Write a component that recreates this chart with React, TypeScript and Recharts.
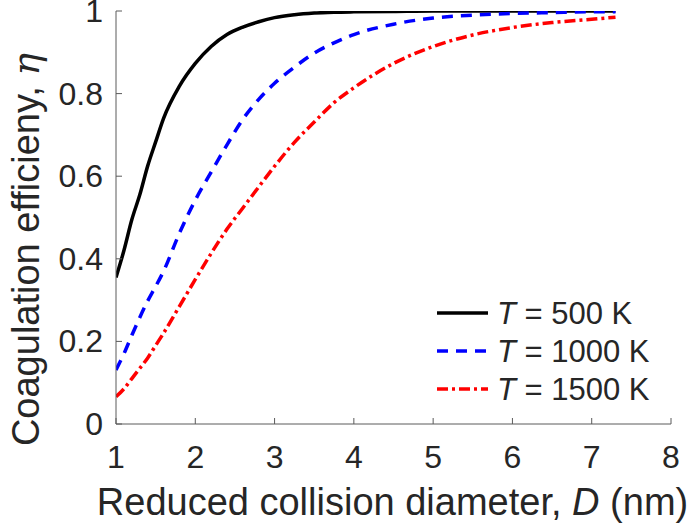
import { LineChart, Line, XAxis, YAxis, Legend } from "recharts";

// reduced collision diameter D (nm)
const diameters = [1, 1.1, 1.2, 1.3, 1.4, 1.5, 1.6, 1.8, 2, 2.2, 2.4, 2.6, 2.8, 3, 3.25, 3.5, 3.75, 4, 4.5, 5, 5.5, 6, 6.5, 7, 7.3];
// coagulation efficiency per temperature
const eta500 = [0.355, 0.42, 0.495, 0.555, 0.625, 0.683, 0.74, 0.818, 0.873, 0.914, 0.943, 0.961, 0.974, 0.984, 0.991, 0.995, 0.997, 0.998, 0.999, 1, 1, 1, 1, 1, 1];
const eta1000 = [0.131, 0.17, 0.215, 0.258, 0.298, 0.333, 0.37, 0.462, 0.542, 0.61, 0.676, 0.738, 0.786, 0.825, 0.864, 0.898, 0.923, 0.943, 0.968, 0.983, 0.99, 0.994, 0.996, 0.998, 0.998];
const eta1500 = [0.066, 0.085, 0.11, 0.135, 0.16, 0.19, 0.22, 0.285, 0.35, 0.413, 0.472, 0.523, 0.574, 0.624, 0.682, 0.731, 0.778, 0.814, 0.873, 0.914, 0.942, 0.96, 0.972, 0.98, 0.985];

const xTicks = [1, 2, 3, 4, 5, 6, 7, 8];
const yTicks = [0, 0.2, 0.4, 0.6, 0.8, 1];

const data = diameters.map((d, i) => ({
  d,
  t500: eta500[i],
  t1000: eta1000[i],
  t1500: eta1500[i],
}));

const FONT = '"Liberation Sans", Arial, Helvetica, sans-serif';
const TEXT = "#262626";
const AXIS = "#5a5a5a";
const TICK_LEN = 6;

const series = [
  { key: "t500", name: "T = 500 K", color: "#000000", dash: undefined as string | undefined },
  { key: "t1000", name: "T = 1000 K", color: "#0000ff", dash: "11 8" },
  { key: "t1500", name: "T = 1500 K", color: "#ff0000", dash: "11 4 3 4" },
];

function BottomTick({ x, y, payload }: any) {
  return (
    <g>
      <line x1={x} y1={y} x2={x} y2={y - TICK_LEN} stroke={AXIS} strokeWidth={1} />
      <text x={x} y={y + 44} textAnchor="middle" fontSize={32} fontFamily={FONT} fill={TEXT}>
        {payload.value}
      </text>
    </g>
  );
}

function LeftTick({ x, y, payload }: any) {
  return (
    <g>
      <line x1={x} y1={y} x2={x + TICK_LEN} y2={y} stroke={AXIS} strokeWidth={1} />
      <text x={x - 13} y={y + 11} textAnchor="end" fontSize={32} fontFamily={FONT} fill={TEXT}>
        {payload.value}
      </text>
    </g>
  );
}

function TopTick({ x, y }: any) {
  return <line x1={x} y1={y} x2={x} y2={y + TICK_LEN} stroke={AXIS} strokeWidth={1} />;
}

function RightTick({ x, y }: any) {
  return <line x1={x} y1={y} x2={x - TICK_LEN} y2={y} stroke={AXIS} strokeWidth={1} />;
}

function XTitle({ viewBox }: any) {
  const { x, y, width } = viewBox;
  return (
    <text x={x + width / 2 - 1} y={y + 91} textAnchor="middle" fontSize={38} fontFamily={FONT} fill={TEXT}>
      Reduced collision diameter, <tspan fontStyle="italic">D</tspan> (nm)
    </text>
  );
}

function YTitle({ viewBox }: any) {
  const { x, y, height } = viewBox;
  const cx = x + 39;
  const cy = y + height / 2 + 32;
  return (
    <text
      x={cx}
      y={cy}
      transform={`rotate(-90 ${cx} ${cy})`}
      textAnchor="middle"
      fontSize={38}
      fontFamily={FONT}
      fill={TEXT}
    >
      Coagulation efficieny,{" "}
      <tspan fontStyle="italic" fontFamily='"DejaVu Serif", serif'>
        η
      </tspan>
    </text>
  );
}

function LegendBox() {
  return (
    <svg width={260} height={120}>
      {series.map((s, i) => {
        const cy = 23 + i * 38;
        return (
          <g key={s.key}>
            <line x1={7} y1={cy} x2={58} y2={cy} stroke={s.color} strokeWidth={3.5} strokeDasharray={s.dash} />
            <text x={67} y={cy + 11} fontSize={31} fontFamily={FONT} fill={TEXT}>
              <tspan fontStyle="italic">{s.name.charAt(0)}</tspan>
              {s.name.slice(1)}
            </text>
          </g>
        );
      })}
    </svg>
  );
}

export default function App() {
  return (
    <div style={{ position: "absolute", left: 0, top: 0, background: "#fff" }}>
      <LineChart width={695} height={528} data={data} margin={{ top: 11, right: 24, bottom: 0, left: 0 }}>
        <XAxis
          dataKey="d"
          type="number"
          domain={[1, 8]}
          ticks={xTicks}
          interval={0}
          height={104}
          tickSize={0}
          tickMargin={0}
          tickLine={false}
          axisLine={{ stroke: AXIS, strokeWidth: 1 }}
          tick={<BottomTick />}
          label={<XTitle />}
          allowDataOverflow
        />
        <XAxis
          xAxisId="top"
          orientation="top"
          dataKey="d"
          type="number"
          domain={[1, 8]}
          ticks={xTicks}
          interval={0}
          height={0}
          tickSize={0}
          tickMargin={0}
          tickLine={false}
          axisLine={{ stroke: AXIS, strokeWidth: 1 }}
          tick={<TopTick />}
          allowDataOverflow
        />
        <YAxis
          type="number"
          domain={[0, 1]}
          ticks={yTicks}
          interval={0}
          width={116}
          tickSize={0}
          tickMargin={0}
          tickLine={false}
          axisLine={{ stroke: AXIS, strokeWidth: 1 }}
          tick={<LeftTick />}
          label={<YTitle />}
          allowDataOverflow
        />
        <YAxis
          yAxisId="right"
          orientation="right"
          type="number"
          domain={[0, 1]}
          ticks={yTicks}
          interval={0}
          width={0}
          tickSize={0}
          tickMargin={0}
          tickLine={false}
          axisLine={{ stroke: AXIS, strokeWidth: 1 }}
          tick={<RightTick />}
          allowDataOverflow
        />
        <Legend
          layout="horizontal"
          align="center"
          verticalAlign="middle"
          content={<LegendBox />}
          wrapperStyle={{ position: "absolute", left: 430, top: 290, width: 260, height: 120 }}
        />
        {series.map((s) => (
          <Line
            key={s.key}
            type="monotone"
            dataKey={s.key}
            name={s.name}
            stroke={s.color}
            strokeWidth={3.5}
            strokeDasharray={s.dash}
            dot={false}
            activeDot={false}
            isAnimationActive={false}
          />
        ))}
      </LineChart>
    </div>
  );
}
